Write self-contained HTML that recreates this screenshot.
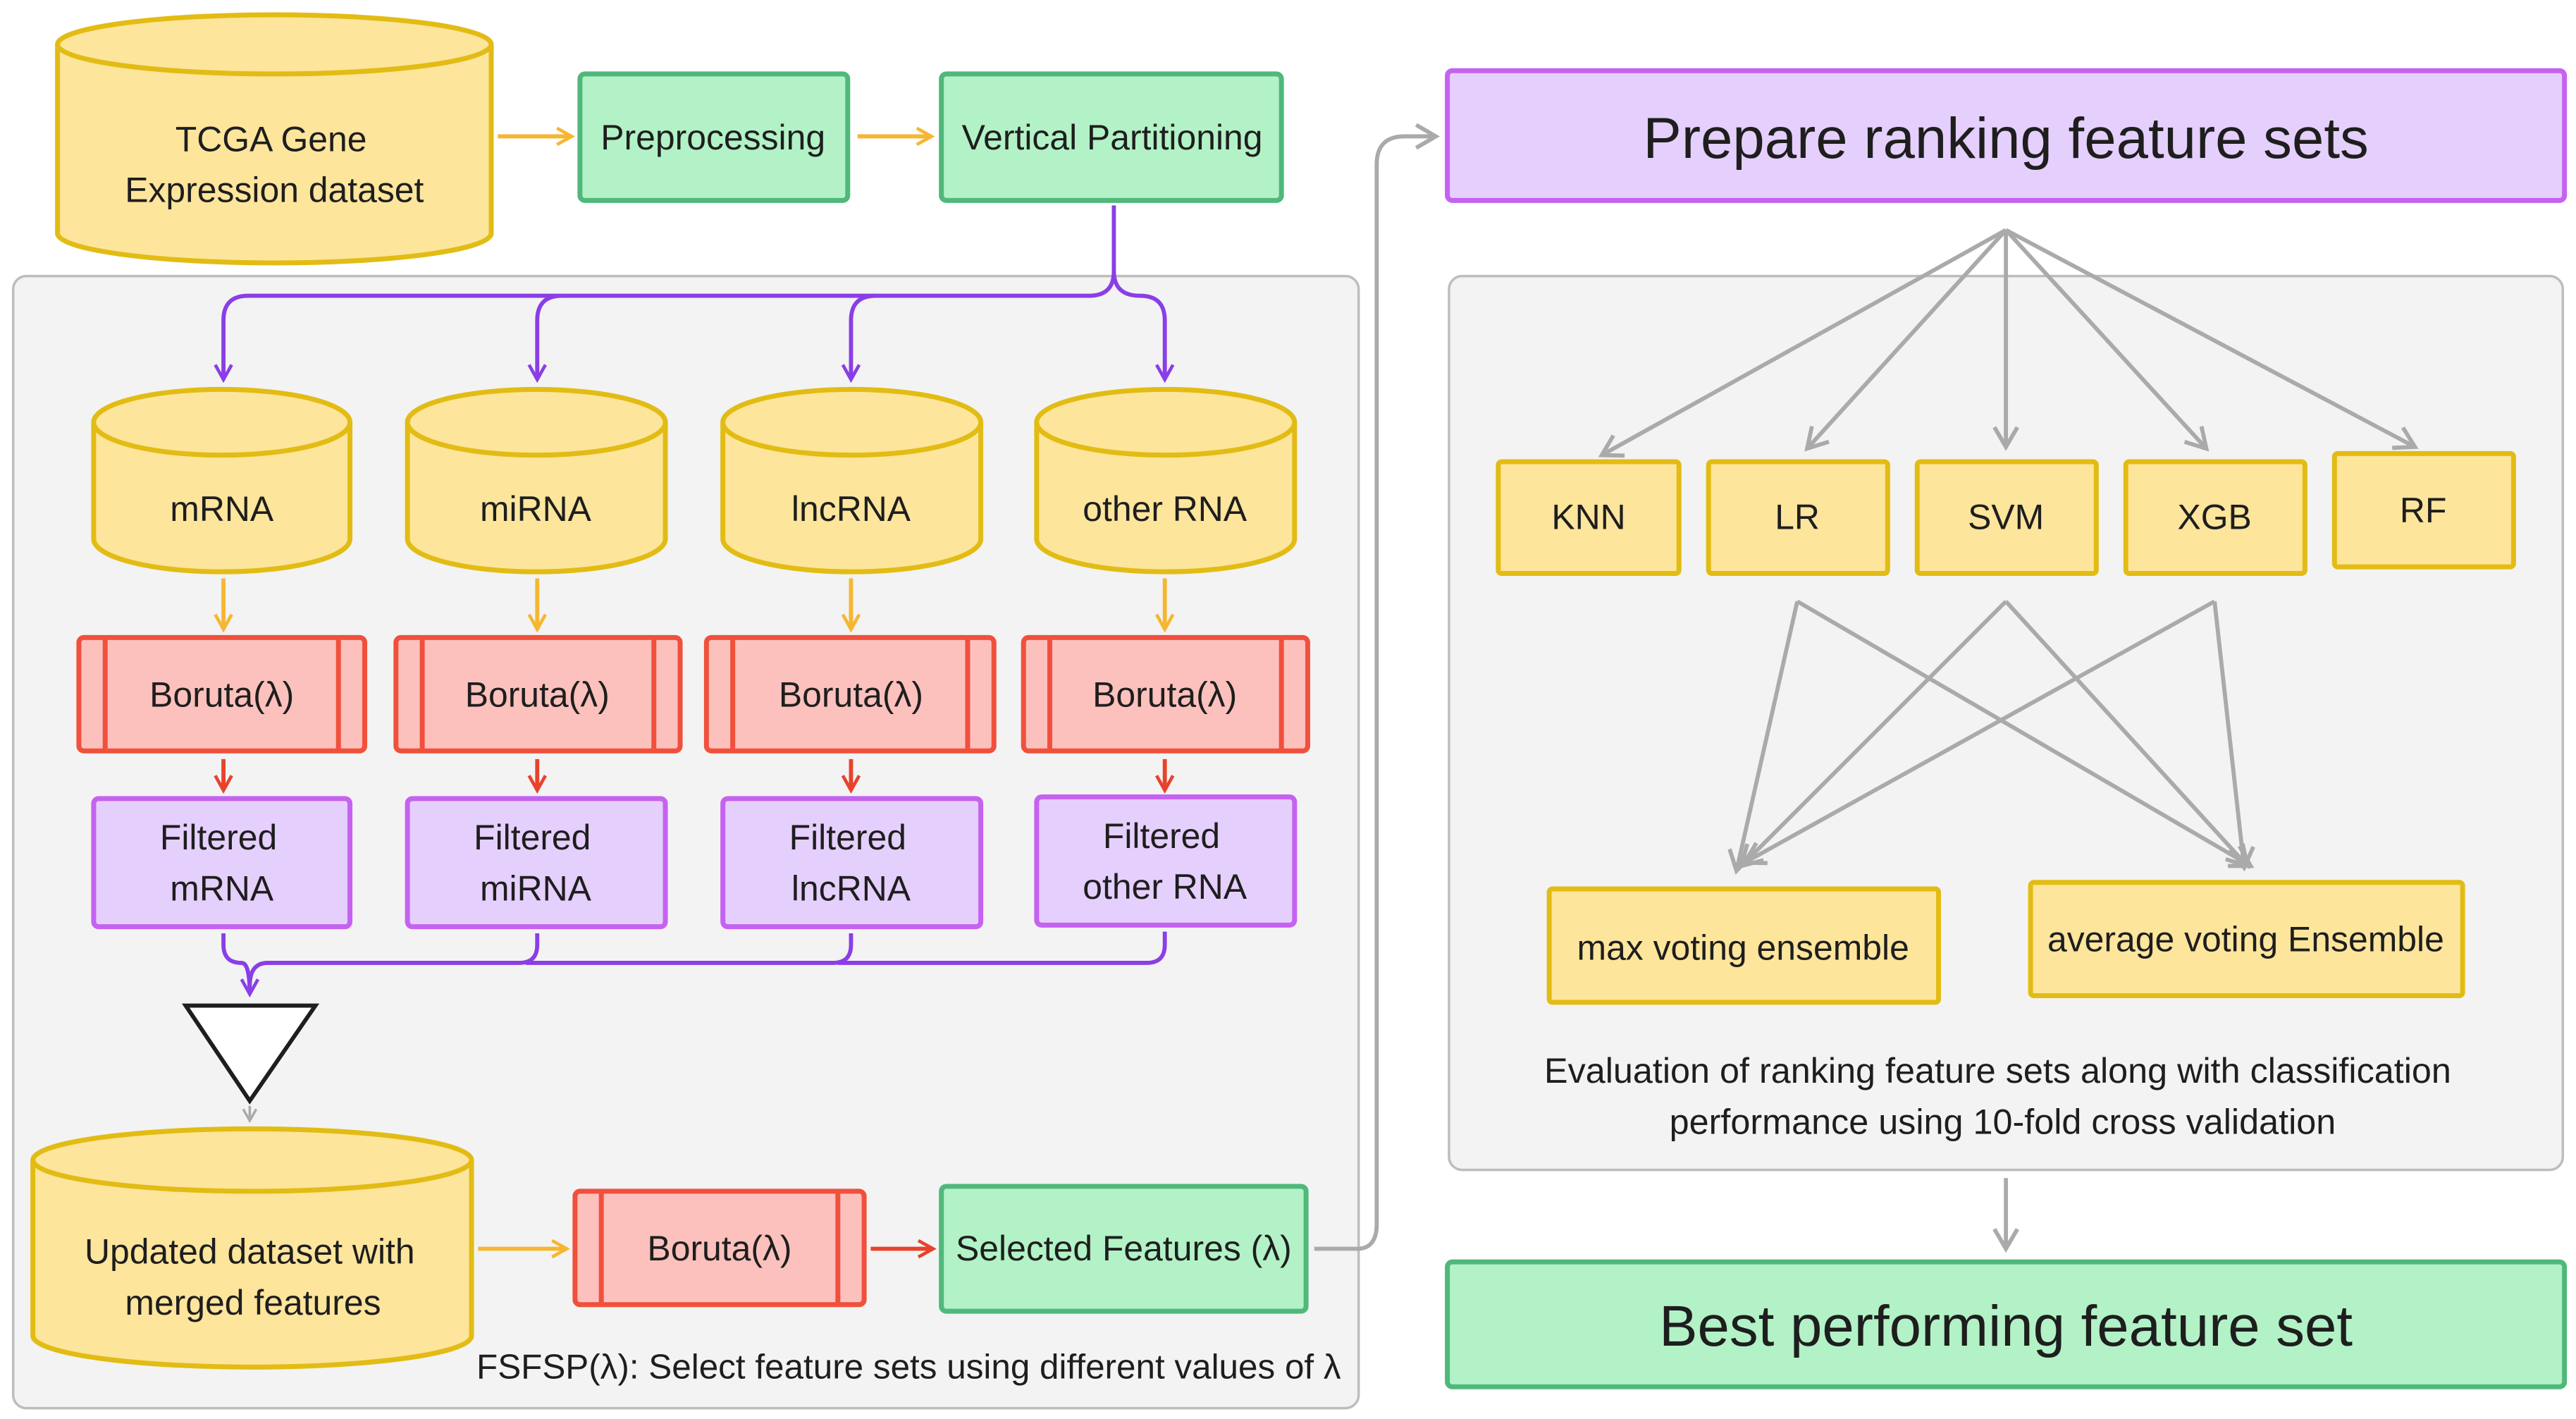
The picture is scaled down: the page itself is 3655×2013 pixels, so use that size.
<!DOCTYPE html>
<html><head><meta charset="utf-8"><style>
html,body{margin:0;padding:0;background:#fff;}
svg{display:block;}
text{font-family:"Liberation Sans",sans-serif;fill:#1e1e1e;}
</style></head><body>
<svg width="3655" height="2013" viewBox="0 0 1568 863.6" xmlns="http://www.w3.org/2000/svg">
<defs>
<marker id="ao" markerWidth="12" markerHeight="12" refX="10" refY="6" orient="auto" markerUnits="userSpaceOnUse"><path d="M1,1 L10,6 L1,11" fill="none" stroke="#f5b731" stroke-width="2"/></marker>
<marker id="ar" markerWidth="12" markerHeight="12" refX="10" refY="6" orient="auto" markerUnits="userSpaceOnUse"><path d="M1,1 L10,6 L1,11" fill="none" stroke="#e8422c" stroke-width="2"/></marker>
<marker id="ap" markerWidth="12" markerHeight="12" refX="10" refY="6" orient="auto" markerUnits="userSpaceOnUse"><path d="M1,1 L10,6 L1,11" fill="none" stroke="#8a3ee6" stroke-width="2"/></marker>
<marker id="ag" markerWidth="16" markerHeight="16" refX="13" refY="8" orient="auto" markerUnits="userSpaceOnUse"><path d="M1,1 L13,8 L1,15" fill="none" stroke="#aaa" stroke-width="2.5"/></marker>
<marker id="ags" markerWidth="10" markerHeight="10" refX="8" refY="5" orient="auto" markerUnits="userSpaceOnUse"><path d="M1,1 L8,5 L1,9" fill="none" stroke="#aaa" stroke-width="1.5"/></marker>
</defs>
<rect x="0" y="0" width="1568" height="864" fill="#fff"/>
<rect x="8" y="168" width="819" height="689" rx="8" fill="#f3f3f3" stroke="#bdbdbd" stroke-width="1.5"/>
<rect x="882" y="168" width="678" height="544" rx="8" fill="#f3f3f3" stroke="#bdbdbd" stroke-width="1.5"/>

<g fill="#fde59c" stroke="#e2bc14" stroke-width="3">
<path d="M35,27 V142 A132,18 0 0 0 299,142 V27"/><ellipse cx="167" cy="27" rx="132" ry="18"/>
<path d="M57,257 V328 A78,20 0 0 0 213,328 V257"/><ellipse cx="135" cy="257" rx="78" ry="20"/>
<path d="M248,257 V328 A78.5,20 0 0 0 405,328 V257"/><ellipse cx="326.5" cy="257" rx="78.5" ry="20"/>
<path d="M440,257 V328 A78.5,20 0 0 0 597,328 V257"/><ellipse cx="518.5" cy="257" rx="78.5" ry="20"/>
<path d="M631,257 V328 A78.5,20 0 0 0 788,328 V257"/><ellipse cx="709.5" cy="257" rx="78.5" ry="20"/>
<path d="M20,706 V813 A133.5,19 0 0 0 287,813 V706"/><ellipse cx="153.5" cy="706" rx="133.5" ry="19"/>
</g>
<g font-size="21.4" text-anchor="middle">
<text x="165" y="92">TCGA Gene</text><text x="167" y="123">Expression dataset</text>
<text x="135" y="317">mRNA</text><text x="326" y="317">miRNA</text><text x="518" y="317">lncRNA</text><text x="709" y="317">other RNA</text>
<text x="152" y="769">Updated dataset with</text><text x="154" y="800">merged features</text>
</g>

<g fill="#b2f2c6" stroke="#4fb87a" stroke-width="3">
<rect x="353" y="45" width="163" height="77" rx="3"/>
<rect x="573" y="45" width="207" height="77" rx="3"/>
<rect x="573" y="722" width="222" height="76" rx="3"/>
<rect x="881" y="768" width="680" height="76" rx="3"/>
</g>
<g font-size="21.4" text-anchor="middle">
<text x="434" y="91">Preprocessing</text>
<text x="677" y="91">Vertical Partitioning</text>
<text x="684" y="767">Selected Features (λ)</text>
</g>
<text x="1221" y="819" font-size="35" text-anchor="middle">Best performing feature set</text>

<g fill="#e5cffc" stroke="#c562f0" stroke-width="3">
<rect x="881" y="43" width="680" height="79" rx="3"/>
<rect x="57" y="486" width="156" height="78" rx="3"/>
<rect x="248" y="486" width="157" height="78" rx="3"/>
<rect x="440" y="486" width="157" height="78" rx="3"/>
<rect x="631" y="485" width="157" height="78" rx="3"/>
</g>
<text x="1221" y="96" font-size="35" text-anchor="middle">Prepare ranking feature sets</text>
<g font-size="21.4" text-anchor="middle">
<text x="133" y="517">Filtered</text><text x="135" y="548">mRNA</text>
<text x="324" y="517">Filtered</text><text x="326" y="548">miRNA</text>
<text x="516" y="517">Filtered</text><text x="518" y="548">lncRNA</text>
<text x="707" y="516">Filtered</text><text x="709" y="547">other RNA</text>
</g>

<g fill="#fcc1bd" stroke="#f0503c" stroke-width="3">
<rect x="48" y="388" width="174" height="69" rx="3"/><line x1="64" y1="388" x2="64" y2="457"/><line x1="206" y1="388" x2="206" y2="457"/>
<rect x="241" y="388" width="173" height="69" rx="3"/><line x1="257" y1="388" x2="257" y2="457"/><line x1="398" y1="388" x2="398" y2="457"/>
<rect x="430" y="388" width="175" height="69" rx="3"/><line x1="446" y1="388" x2="446" y2="457"/><line x1="589" y1="388" x2="589" y2="457"/>
<rect x="623" y="388" width="173" height="69" rx="3"/><line x1="639" y1="388" x2="639" y2="457"/><line x1="780" y1="388" x2="780" y2="457"/>
<rect x="350" y="725" width="176" height="69" rx="3"/><line x1="366" y1="725" x2="366" y2="794"/><line x1="510" y1="725" x2="510" y2="794"/>
</g>
<g font-size="21.4" text-anchor="middle">
<text x="135" y="430">Boruta(λ)</text><text x="327" y="430">Boruta(λ)</text><text x="518" y="430">Boruta(λ)</text><text x="709" y="430">Boruta(λ)</text>
<text x="438" y="767">Boruta(λ)</text>
</g>

<g fill="#fde59c" stroke="#e2bc14" stroke-width="3">
<rect x="912" y="281" width="110" height="68" rx="2"/>
<rect x="1040" y="281" width="109" height="68" rx="2"/>
<rect x="1167" y="281" width="109" height="68" rx="2"/>
<rect x="1294" y="281" width="109" height="68" rx="2"/>
<rect x="1421" y="276" width="109" height="69" rx="2"/>
<rect x="943" y="541" width="237" height="69" rx="2"/>
<rect x="1236" y="537" width="263" height="69" rx="2"/>
</g>
<g font-size="21.4" text-anchor="middle">
<text x="967" y="322">KNN</text><text x="1094" y="322">LR</text><text x="1221" y="322">SVM</text><text x="1348" y="322">XGB</text><text x="1475" y="318">RF</text>
<text x="1061" y="584">max voting ensemble</text><text x="1367" y="579">average voting Ensemble</text>
</g>
<g font-size="21.6" text-anchor="middle">
<text x="1216" y="659">Evaluation of ranking feature sets along  with classification</text>
<text x="1219" y="690">performance using 10-fold cross validation</text>
</g>
<text x="290" y="839" font-size="21.2">FSFSP(λ): Select feature sets using different values of λ</text>

<g stroke="#f5b731" stroke-width="2.5" fill="none" marker-end="url(#ao)">
<line x1="303" y1="83" x2="348" y2="83"/><line x1="522" y1="83" x2="567" y2="83"/>
<line x1="136" y1="352" x2="136" y2="383"/><line x1="327" y1="352" x2="327" y2="383"/>
<line x1="518" y1="352" x2="518" y2="383"/><line x1="709" y1="352" x2="709" y2="383"/>
<line x1="291" y1="760" x2="345" y2="760"/>
</g>
<g stroke="#e8422c" stroke-width="2.5" fill="none" marker-end="url(#ar)">
<line x1="136" y1="462" x2="136" y2="481"/><line x1="327" y1="462" x2="327" y2="481"/>
<line x1="518" y1="462" x2="518" y2="481"/><line x1="709" y1="462" x2="709" y2="481"/>
<line x1="530" y1="760" x2="568" y2="760"/>
</g>
<g stroke="#8a3ee6" stroke-width="2.5" fill="none">
<path d="M678,125 V165 Q678,180 663,180 H151 Q136,180 136,195 V231" marker-end="url(#ap)"/>
<path d="M342,180 Q327,180 327,195 V231" marker-end="url(#ap)"/>
<path d="M533,180 Q518,180 518,195 V231" marker-end="url(#ap)"/>
<path d="M678,165 Q678,180 694,180 Q709,180 709,195 V231" marker-end="url(#ap)"/>
<path d="M136,568 V575 Q136,586 147,586 Q152,586 152,605" marker-end="url(#ap)"/>
<path d="M327,568 V575 Q327,586 316,586 H163 Q152,586 152,600"/>
<path d="M518,568 V575 Q518,586 507,586 H320"/>
<path d="M709,567 V575 Q709,586 698,586 H510"/>
</g>
<path d="M113,612 L192,612 L152,670 Z" fill="#fff" stroke="#1e1e1e" stroke-width="2.5"/>
<g stroke="#aaa" stroke-width="2.5" fill="none">
<line x1="152" y1="673" x2="152" y2="682" stroke-width="1.5" marker-end="url(#ags)"/>
<path d="M800,760 H826 Q838,760 838,745 V100 Q838,83 855,83 H874" marker-end="url(#ag)"/>
<line x1="1221" y1="140" x2="975" y2="277" marker-end="url(#ag)"/>
<line x1="1221" y1="140" x2="1100" y2="273" marker-end="url(#ag)"/>
<line x1="1221" y1="140" x2="1221" y2="272" marker-end="url(#ag)"/>
<line x1="1221" y1="140" x2="1343" y2="273" marker-end="url(#ag)"/>
<line x1="1221" y1="140" x2="1470" y2="272" marker-end="url(#ag)"/>
<line x1="1094" y1="366" x2="1057" y2="530" marker-end="url(#ag)"/>
<line x1="1094" y1="366" x2="1370" y2="527" marker-end="url(#ag)"/>
<line x1="1221" y1="366" x2="1060" y2="527" marker-end="url(#ag)"/>
<line x1="1221" y1="366" x2="1368" y2="527" marker-end="url(#ag)"/>
<line x1="1348" y1="366" x2="1062" y2="525" marker-end="url(#ag)"/>
<line x1="1348" y1="366" x2="1366" y2="528" marker-end="url(#ag)"/>
<line x1="1221" y1="717" x2="1221" y2="760" marker-end="url(#ag)"/>
</g>
</svg>
</body></html>
